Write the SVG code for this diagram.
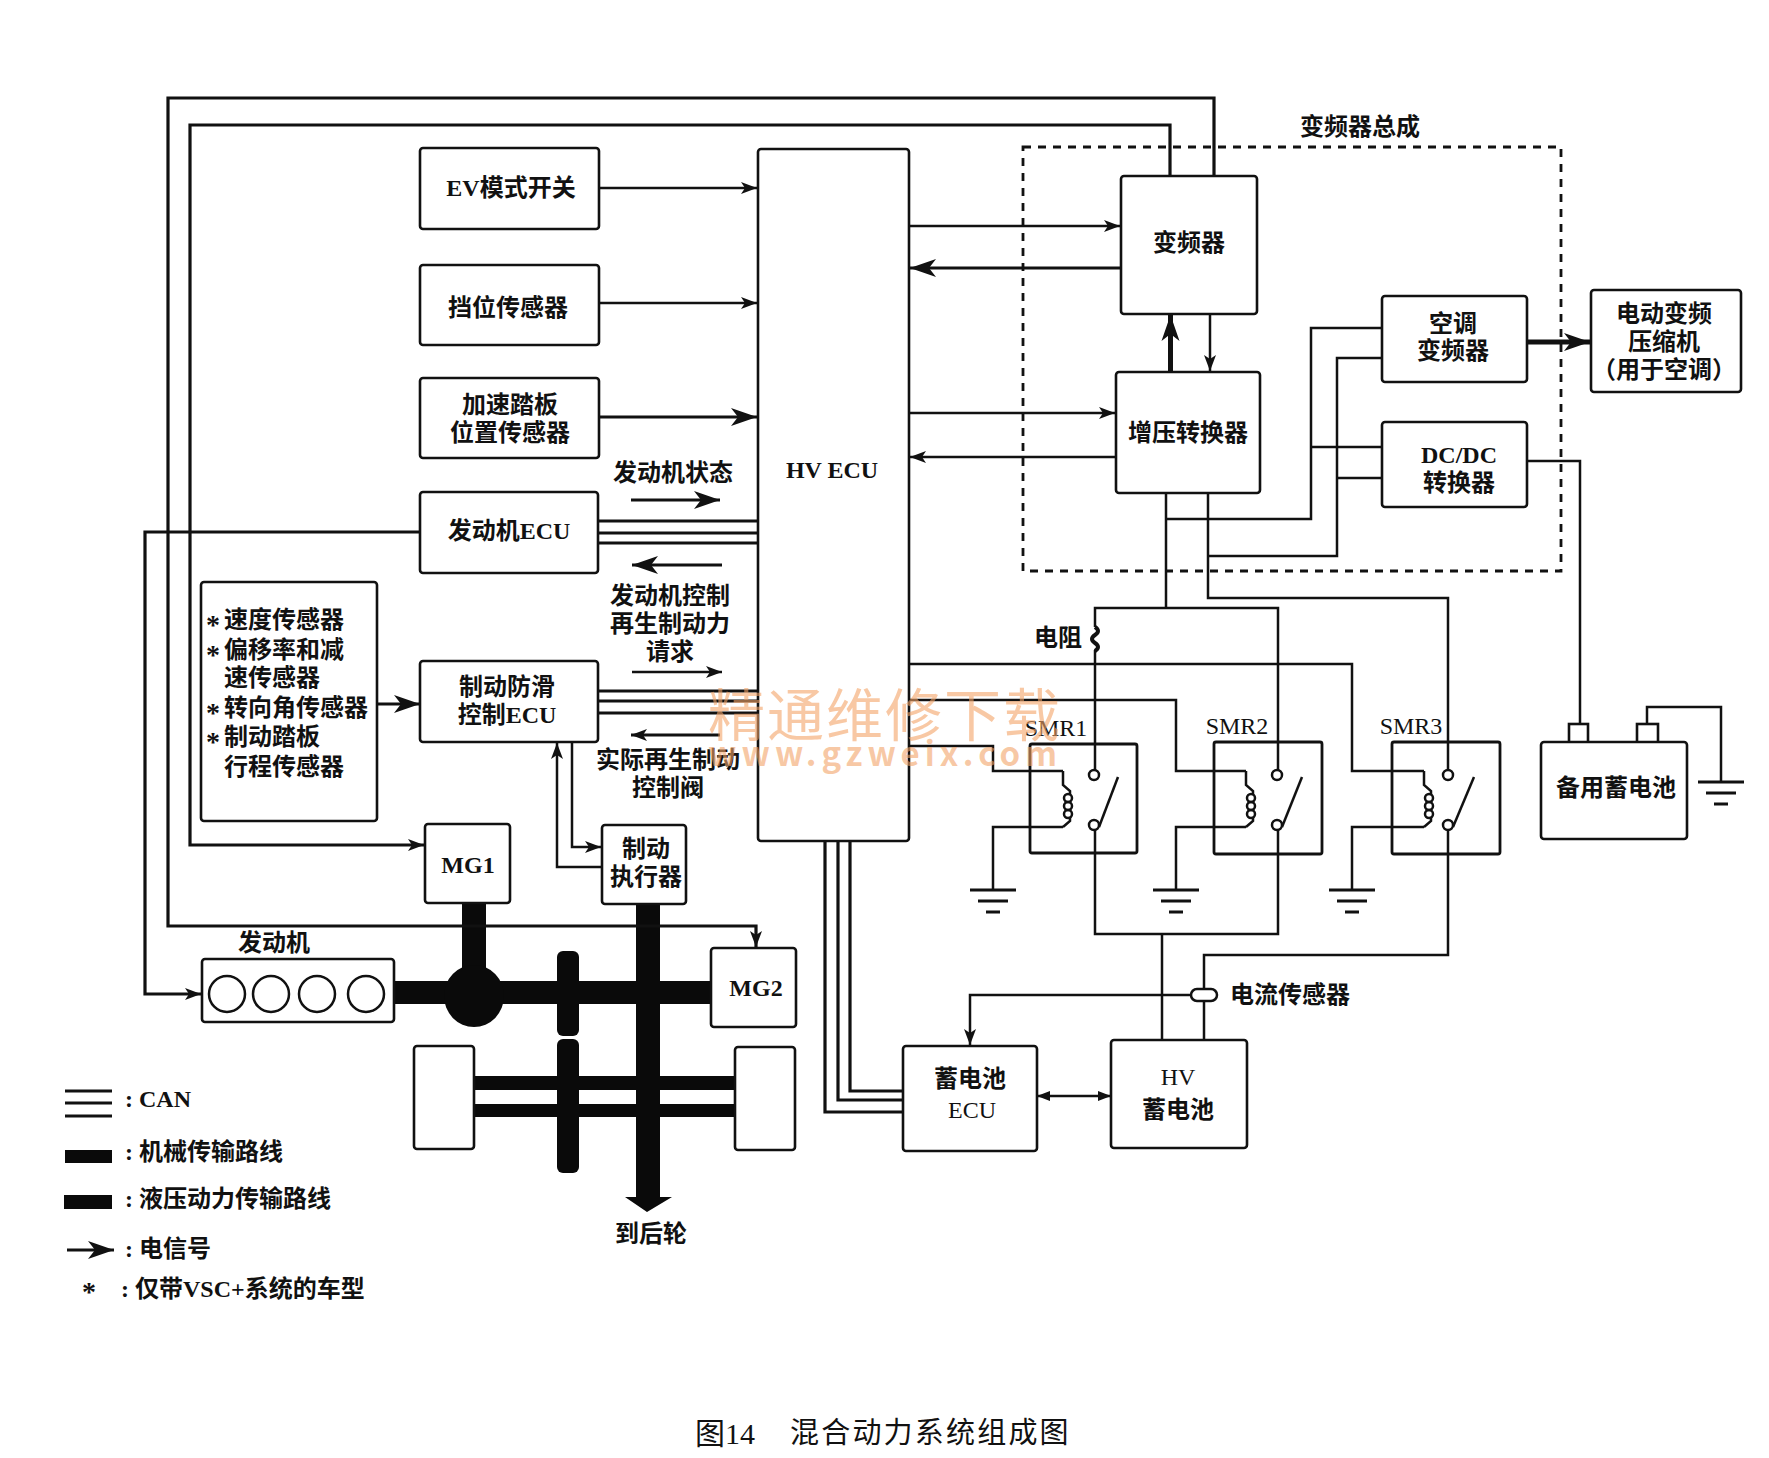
<svg xmlns="http://www.w3.org/2000/svg" xmlns:xlink="http://www.w3.org/1999/xlink" width="1769" height="1458" viewBox="0 0 1769 1458">
<style>
text{font-family:"Liberation Serif","Noto Sans CJK SC",serif;font-size:24px;font-weight:700;fill:#111;text-anchor:middle;dominant-baseline:central}
.l{text-anchor:start}
.s{font-size:28px}
.n{font-weight:400}
.box{fill:#fff;stroke:#111;stroke-width:2.6}
.w{fill:none;stroke:#111;stroke-width:2.5}
.t{fill:none;stroke:#111;stroke-width:3.2}
.th{fill:none;stroke:#111;stroke-width:5}
.m{fill:#0a0a0a;stroke:none}
.wm{font-family:"Noto Sans CJK SC",sans-serif;fill:#f3a468;fill-opacity:.6}
</style>
<defs>
<marker id="a" markerUnits="userSpaceOnUse" markerWidth="18" markerHeight="14" refX="16" refY="7" orient="auto"><path d="M0 1 L16 7 L0 13 L4 7Z" fill="#111"/></marker>
<marker id="b" markerUnits="userSpaceOnUse" markerWidth="28" markerHeight="20" refX="26" refY="10" orient="auto"><path d="M0 1 L26 10 L0 19 L7 10Z" fill="#111"/></marker>
<g id="coil"><path d="M0 0V14L7 20V23M7 46V50L0 56" class="w"/><circle cx="5" cy="27" r="4" class="w"/><circle cx="5" cy="35" r="4" class="w"/><circle cx="5" cy="43" r="4" class="w"/></g>
<g id="gnd"><path d="M-23 0H23M-15 11H15M-7 22H7" fill="none" stroke="#111" stroke-width="3"/></g>
</defs>
<rect width="1769" height="1458" fill="#fff"/>

<g id="mechanical">
<rect class="m" x="394" y="981" width="317" height="23"/>
<rect class="m" x="462" y="903" width="24" height="70"/>
<ellipse class="m" cx="474" cy="996" rx="30" ry="31"/>
<rect class="m" x="557" y="951" width="22" height="85" rx="6"/>
<rect class="m" x="557" y="1039" width="22" height="134" rx="6"/>
<rect class="m" x="474" y="1076" width="261" height="14"/>
<rect class="m" x="474" y="1104" width="261" height="13"/>
<path class="m" d="M636 904H660V1197H672L647 1212L625 1197H636Z"/>
</g>

<g id="connectors">
<path class="t" d="M1214 176V98H168V926H756V947" marker-end="url(#a)"/>
<path class="t" d="M1170 176V125H190V845H424" marker-end="url(#a)"/>
<path class="t" d="M420 532H145V994H201" marker-end="url(#a)"/>
<path class="w" d="M599 188H757" marker-end="url(#a)"/>
<path class="w" d="M599 303H757" marker-end="url(#a)"/>
<path class="t" d="M599 417H757" marker-end="url(#b)"/>
<path class="t" d="M598 521H758M598 533H758M598 543H758"/>
<path class="t" d="M598 691H758M598 701H758M598 713H758"/>
<path class="t" d="M631 500H720" marker-end="url(#b)"/>
<path class="t" d="M722 565H632" marker-end="url(#b)"/>
<path class="w" d="M632 672H722" marker-end="url(#a)"/>
<path class="t" d="M720 735H631" marker-end="url(#a)"/>
<path class="t" d="M377 704H420" marker-end="url(#b)"/>
<path class="w" d="M602 867H557V743" marker-end="url(#a)"/>
<path class="w" d="M572 742V847H601" marker-end="url(#a)"/>
<path class="w" d="M909 226H1120" marker-end="url(#a)"/>
<path class="t" d="M1121 268H910" marker-end="url(#b)"/>
<path class="w" d="M909 413H1115" marker-end="url(#a)"/>
<path class="w" d="M1116 457H910" marker-end="url(#a)"/>
<path class="th" d="M1170.500 372V315" marker-end="url(#b)"/>
<path class="w" d="M1210 314V371" marker-end="url(#a)"/>
<path class="th" d="M1527 342H1590" marker-end="url(#b)"/>
<path class="w" d="M1166 493V608M1166 519H1311V328H1382M1311 447H1382"/>
<path class="w" d="M1208 493V598H1448V771M1208 556H1337V358H1382M1337 478H1382"/>
<path class="w" d="M1527 461H1580V724"/>
<path class="w" d="M1095 627V608H1278V771"/>
<path class="w" d="M1095 650V771"/>
<path class="w" d="M1095 830V934H1278V830"/>
<path class="w" d="M1448 830V955H1204V1040M1162 934V1040"/>
<path class="w" d="M909 664H1352V771H1424"/>
<path class="w" d="M909 700H1176V771H1246"/>
<path class="w" d="M909 746H993V771H1063"/>
<path class="w" d="M1063 827H993V890"/>
<path class="w" d="M1246 827H1176V890"/>
<path class="w" d="M1424 827H1352V890"/>
<path class="w" d="M1647 724V707H1721V782"/>
<path class="w" d="M1192 995H970V1045" marker-end="url(#a)"/>
<path class="t" d="M850 841V1091H903M838 841V1100H903M825 841V1112H903"/>
<path class="w" d="M1038 1096H1110"/>
<path d="M1037 1096L1050 1091V1101ZM1111 1096L1098 1091V1101Z" fill="#111"/>
<path d="M1095 627Q1101 631 1095 635Q1089 639 1095 643Q1101 647 1095 651" fill="none" stroke="#111" stroke-width="4"/>
</g>

<rect id="inverter-assembly" x="1023" y="147" width="538" height="424" fill="none" stroke="#111" stroke-width="2.8" stroke-dasharray="8 7"/>
<text x="1360" y="127">变频器总成</text>

<g id="ev"><rect class="box" x="420" y="148" width="179" height="81" rx="3"/><text x="511" y="188">EV模式开关</text></g>
<g id="shift"><rect class="box" x="420" y="265" width="179" height="80" rx="3"/><text x="508" y="308">挡位传感器</text></g>
<g id="pedal"><rect class="box" x="420" y="378" width="179" height="80" rx="3"/><text x="510" y="405">加速踏板</text><text x="510" y="433">位置传感器</text></g>
<g id="engine-ecu"><rect class="box" x="420" y="492" width="178" height="81" rx="3"/><text x="509" y="531">发动机ECU</text></g>
<g id="sensors"><rect class="box" x="201" y="582" width="176" height="239" rx="3"/>
<text class="s" x="213" y="624">*</text><text class="l" x="224" y="620">速度传感器</text>
<text class="s" x="213" y="654">*</text><text class="l" x="224" y="650">偏移率和减</text>
<text class="l" x="224" y="678">速传感器</text>
<text class="s" x="213" y="712">*</text><text class="l" x="224" y="708">转向角传感器</text>
<text class="s" x="213" y="741">*</text><text class="l" x="224" y="737">制动踏板</text>
<text class="l" x="224" y="767">行程传感器</text></g>
<g id="brake-ecu"><rect class="box" x="420" y="661" width="178" height="81" rx="3"/><text x="507" y="687">制动防滑</text><text x="507" y="715">控制ECU</text></g>
<g id="hv-ecu"><rect class="box" x="758" y="149" width="151" height="692" rx="3"/><text x="832" y="470">HV ECU</text></g>
<g id="mg1"><rect class="box" x="425" y="824" width="85" height="79" rx="3"/><text x="468" y="865">MG1</text></g>
<g id="brake-act"><rect class="box" x="602" y="825" width="84" height="79" rx="3"/><text x="646" y="849">制动</text><text x="646" y="877">执行器</text></g>
<g id="mg2"><rect class="box" x="711" y="948" width="85" height="79" rx="3"/><text x="756" y="988">MG2</text></g>
<g id="engine"><rect class="box" x="202" y="959" width="192" height="63" rx="3"/>
<circle class="w" cx="227" cy="994" r="18"/><circle class="w" cx="271" cy="994" r="18"/><circle class="w" cx="317" cy="994" r="18"/><circle class="w" cx="366" cy="994" r="18"/>
<text x="274" y="943">发动机</text></g>
<g id="wheel-l"><rect class="box" x="414" y="1046" width="60" height="103" rx="3"/></g>
<g id="wheel-r"><rect class="box" x="735" y="1047" width="60" height="103" rx="3"/></g>
<g id="inverter"><rect class="box" x="1121" y="176" width="136" height="138" rx="3"/><text x="1189" y="243">变频器</text></g>
<g id="boost"><rect class="box" x="1116" y="372" width="144" height="121" rx="3"/><text x="1188" y="433">增压转换器</text></g>
<g id="ac-inv"><rect class="box" x="1382" y="296" width="145" height="86" rx="3"/><text x="1453" y="324">空调</text><text x="1453" y="351">变频器</text></g>
<g id="dcdc"><rect class="box" x="1382" y="422" width="145" height="85" rx="3"/><text x="1459" y="455">DC/DC</text><text x="1459" y="483">转换器</text></g>
<g id="compressor"><rect class="box" x="1591" y="290" width="150" height="102" rx="3"/><text x="1664" y="314">电动变频</text><text x="1664" y="342">压缩机</text><text x="1664" y="370">（用于空调）</text></g>

<g id="smr1"><rect x="1030" y="744" width="107" height="109" rx="2" class="w" style="stroke-width:2.8"/>
<use xlink:href="#coil" href="#coil" x="1063" y="771"/><use href="#gnd" xlink:href="#gnd" x="993" y="890"/>
<circle cx="1094" cy="775" r="5" class="w" style="fill:#fff"/><circle cx="1094" cy="825" r="5" class="w" style="fill:#fff"/><path class="w" d="M1099 827L1118 777"/>
<text class="n" x="1056" y="728">SMR1</text></g>
<g id="smr2"><rect x="1214" y="742" width="108" height="112" rx="2" class="w" style="stroke-width:2.8"/>
<use href="#coil" xlink:href="#coil" x="1246" y="771"/><use href="#gnd" xlink:href="#gnd" x="1176" y="890"/>
<circle cx="1277" cy="775" r="5" class="w" style="fill:#fff"/><circle cx="1277" cy="825" r="5" class="w" style="fill:#fff"/><path class="w" d="M1282 827L1302 777"/>
<text class="n" x="1237" y="726">SMR2</text></g>
<g id="smr3"><rect x="1392" y="742" width="108" height="112" rx="2" class="w" style="stroke-width:2.8"/>
<use href="#coil" xlink:href="#coil" x="1424" y="771"/><use href="#gnd" xlink:href="#gnd" x="1352" y="890"/>
<circle cx="1448" cy="775" r="5" class="w" style="fill:#fff"/><circle cx="1448" cy="825" r="5" class="w" style="fill:#fff"/><path class="w" d="M1453 827L1474 777"/>
<text class="n" x="1411" y="726">SMR3</text></g>
<g id="backup-battery"><rect class="box" x="1569" y="724" width="19" height="20"/><rect class="box" x="1637" y="724" width="21" height="20"/>
<rect class="box" x="1541" y="742" width="146" height="97" rx="3"/><text x="1616" y="788">备用蓄电池</text>
<use href="#gnd" xlink:href="#gnd" x="1721" y="782"/></g>
<g id="battery-ecu"><rect class="box" x="903" y="1046" width="134" height="105" rx="3"/><text x="970" y="1079">蓄电池</text><text class="n" x="972" y="1110">ECU</text></g>
<g id="hv-battery"><rect class="box" x="1111" y="1040" width="136" height="108" rx="3"/><text class="n" x="1178" y="1077">HV</text><text x="1178" y="1110">蓄电池</text></g>
<g id="current-sensor"><rect x="1191" y="989" width="26" height="12" rx="6" class="w" style="fill:#fff"/><text class="l" x="1230" y="995">电流传感器</text></g>
<text x="1058" y="638">电阻</text>

<g id="labels">
<text x="673" y="473">发动机状态</text>
<text x="670" y="596">发动机控制</text><text x="670" y="624">再生制动力</text><text x="670" y="652">请求</text>
<text x="668" y="760">实际再生制动</text><text x="668" y="788">控制阀</text>
<text x="651" y="1234">到后轮</text>
</g>

<g id="legend">
<path class="t" d="M65 1091H112M65 1103H112M65 1116H112"/>
<rect class="m" x="65" y="1150" width="47" height="13"/>
<rect class="m" x="64" y="1195" width="48" height="14"/>
<path class="t" d="M67 1250H114" marker-end="url(#b)"/>
<text class="l" x="125" y="1099">: CAN</text>
<text class="l" x="125" y="1152">: 机械传输路线</text>
<text class="l" x="125" y="1199">: 液压动力传输路线</text>
<text class="l" x="125" y="1249">: 电信号</text>
<text class="s" x="89" y="1291">*</text>
<text class="l" x="121" y="1289">: 仅带VSC+系统的车型</text>
</g>

<g id="title"><text class="l" x="695" y="1433" style="font-size:30px;font-weight:400">图14</text><text class="l" x="790" y="1433" style="font-size:29px;font-weight:400;letter-spacing:2.200px">混合动力系统组成图</text></g>

<g id="watermark">
<text class="wm" x="885" y="711" style="font-size:57px;font-weight:400;letter-spacing:2px">精通维修下载</text>
<text class="wm" x="885" y="752" style="font-size:33px;font-weight:700;letter-spacing:5px">www.gzweix.com</text>
</g>
</svg>
